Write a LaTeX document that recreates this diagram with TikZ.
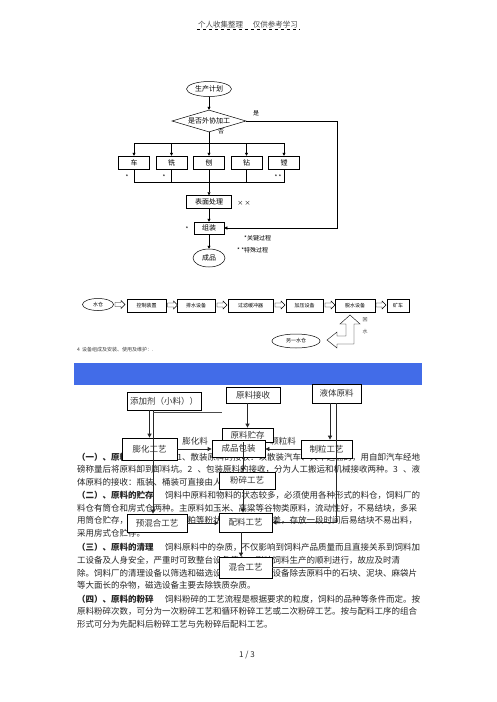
\documentclass[tikz,border=0pt]{standalone}
\usepackage{fontspec}
\setmainfont{Noto Sans CJK SC}
\usetikzlibrary{shapes.geometric,arrows.meta}
\XeTeXlinebreaklocale "zh"
\XeTeXlinebreakskip=0pt plus 1pt
\newcommand{\jl}[1]{\makebox[343pt][s]{#1}}
\newcommand{\barw}[2]{\draw[line width=0.4pt,fill=white,shift={(#1,#2)}] (-5,-2) -- (1,-2) -- (1,-4) -- (5,0) -- (1,4) -- (1,2) -- (-5,2) -- cycle;}
\begin{document}
\begin{tikzpicture}[x=1pt,y=-1pt,
  arr/.style={-{Triangle[length=3pt,width=3pt]},line width=0.5pt},
  tbox/.style={draw,fill=white,inner sep=0pt,line width=0.5pt,font=\fontsize{7}{7}\selectfont,minimum height=13pt},
  sbox/.style={draw,fill=white,inner sep=0pt,line width=0.5pt,font=\fontsize{5}{5}\selectfont,minimum height=13pt},
  lbox/.style={draw,fill=white,inner sep=0pt,line width=0.8pt,font=\fontsize{8.5}{9}\selectfont,text=black!80},
  larr/.style={-{Triangle[length=4pt,width=4pt]},line width=0.8pt,draw=black!85},
  txt/.style={inner sep=0pt,anchor=west,font=\fontsize{8.5}{9}\selectfont,text=black!85},
  lbl/.style={inner sep=0pt,font=\fontsize{6}{6}\selectfont},
  tiny/.style={inner sep=0pt,font=\fontsize{5}{5}\selectfont,text=black!75}]
\useasboundingbox (0,0) rectangle (496,702);
\fill[white] (0,0) rectangle (496,702);

% header
\node[inner sep=1pt,font=\fontsize{7.5}{8}\selectfont,text=black!70] (hdr) at (248,25) {个人收集整理\hspace{10pt}仅供参考学习};
\draw[dashed,line width=0.6pt] (hdr.south west) -- (hdr.south east);

% ---------- flowchart 1 ----------
\node[ellipse,draw,line width=0.5pt,minimum width=45pt,minimum height=15pt,inner sep=0pt,font=\fontsize{7}{7}\selectfont] (plan) at (209,89) {生产计划};
\node[diamond,draw,line width=0.5pt,aspect=3.4,minimum width=74pt,minimum height=22pt,inner sep=0pt,font=\fontsize{7}{7}\selectfont] (dia) at (209,121) {是否外协加工};
\node[tbox,minimum width=31pt] (m1) at (134,162.5) {车};
\node[tbox,minimum width=31pt] (m2) at (171.5,162.5) {铣};
\node[tbox,minimum width=31pt] (m3) at (209,162.5) {刨};
\node[tbox,minimum width=31pt] (m4) at (246.5,162.5) {钻};
\node[tbox,minimum width=31pt] (m5) at (284,162.5) {镗};
\node[tbox,minimum width=45pt] (surf) at (209,202) {表面处理};
\node[tbox,minimum width=30pt,minimum height=12pt] (asm) at (209,228) {组装};
\node[ellipse,draw,line width=0.5pt,minimum width=32pt,minimum height=18pt,inner sep=0pt,font=\fontsize{7}{7}\selectfont] (fin) at (209,258) {成品};

\coordinate (bh) at (209,143);
\coordinate (bl) at (209,182);
\coordinate (cr) at (337,121);
\draw[arr] (plan) -- (dia);
\draw[line width=0.5pt] (dia.south) -- (bh);
\draw[line width=0.5pt] (m1.north |- bh) -- (m5.north |- bh);
\foreach \i in {1,...,5} {\draw[arr] (m\i.north |- bh) -- (m\i.north);}
\draw[line width=0.5pt] (m1.south) -- (m1.south |- bl) -- (m5.south |- bl) -- (m5.south);
\draw[line width=0.5pt] (m2.south) -- (m2.south |- bl);
\draw[line width=0.5pt] (m4.south) -- (m4.south |- bl);
\draw[arr] (m3.south) -- (surf.north);
\draw[arr] (surf) -- (asm);
\draw[arr] (asm) -- (fin);
\draw[arr] (dia.east) -- (cr) |- (asm.east);

\node[lbl] (yes) at (256,113) {是};
\node[lbl] (no) at (221,131) {否};
\node[lbl] (s1) at (127,177) {*};
\node[lbl] (s2) at (164,177) {*};
\node[lbl] (s5) at (278,177) {* *};
\node[lbl] (sx) at (244,203) {× ×};
\node[lbl] (sa) at (187,229) {*};
\node[lbl,anchor=west] (key) at (244,238) {*关键过程};
\node[lbl,anchor=west] (spc) at (237,250) {* *特殊过程};

% ---------- flowchart 2 ----------
\node[ellipse,draw,line width=0.5pt,minimum width=31pt,minimum height=12pt,inner sep=0pt,font=\fontsize{5}{5}\selectfont] (w1) at (98,304.5) {水仓};
\node[sbox,minimum width=39pt] (b1) at (146.5,305.5) {控制装置};
\node[sbox,minimum width=38pt] (b2) at (196,305.5) {排水设备};
\node[sbox,minimum width=45pt] (b3) at (250.5,305.5) {过滤缓冲器};
\node[sbox,minimum width=37pt] (b4) at (304.5,305.5) {加压设备};
\node[sbox,minimum width=40pt] (b5) at (355,305.5) {脱水设备};
\node[sbox,minimum width=22pt] (b6) at (398,305.5) {矿车};
\barw{120}{304.5}
\barw{172.5}{305}
\barw{222}{305}
\barw{280}{305}
\barw{330}{305}
\barw{381}{305}
\draw[line width=0.4pt,fill=white] (350,315) -- (360,324) -- (354,324) -- (354,344) -- (337,344) -- (337,348) -- (327,340) -- (337,332) -- (337,336) -- (346,336) -- (346,324) -- (340,324) -- cycle;
\node[ellipse,draw,line width=0.5pt,minimum width=48pt,minimum height=14pt,inner sep=0pt,font=\fontsize{5}{5}\selectfont] (w2) at (296,341) {另一水仓};
\node[tiny] (h1) at (365,320) {回};
\node[tiny] (h2) at (365,332) {水};
\node[tiny,anchor=west] (sec4) at (77,350) {4\ \ 设备组成及安装、使用及维护：.};

% blue band
\fill[fill={rgb,255:red,66;green,108;blue,232}] (74,363) rectangle (422,385);

% ---------- body text ----------
\node[txt] (t1) at (77,457) {\jl{\bfseries （一）、原料的接收\mdseries\ 1、散装原料的接收：以散装汽车、火车运输的，用自卸汽车经地}};
\node[txt] (t2) at (77,469.5) {\jl{磅称量后将原料卸到卸料坑。2 、包装原料的接收，分为人工搬运和机械接收两种。3 、液}};
\node[txt] (t3) at (77,482) {体原料的接收：瓶装、桶装可直接由人工搬运。};
\node[txt] (t4) at (77,495) {\jl{\bfseries （二）、原料的贮存\mdseries\ 饲料中原料和物料的状态较多，必须使用各种形式的料仓，饲料厂的}};
\node[txt] (t5) at (77,508) {\jl{料仓有筒仓和房式仓两种。主原料如玉米、高粱等谷物类原料，流动性好，不易结块，多采}};
\node[txt] (t6) at (77,520.5) {\jl{用筒仓贮存，辅料如麸皮、豆粕等粉状原料，流动性差，存放一段时间后易结块不易出料，}};
\node[txt] (t7) at (77,533) {采用房式仓贮存。};
\node[txt] (t8) at (77,547) {\jl{\bfseries （三）、原料的清理\mdseries\ 饲料原料中的杂质，不仅影响到饲料产品质量而且直接关系到饲料加}};
\node[txt] (t9) at (77,560) {\jl{工设备及人身安全，严重时可致整台设备停车，影响饲料生产的顺利进行，故应及时清}};
\node[txt] (t10) at (77,573) {\jl{除。饲料厂的清理设备以筛选和磁选设备为主，筛选设备除去原料中的石块、泥块、麻袋片}};
\node[txt] (t11) at (77,585.5) {等大面长的杂物，磁选设备主要去除铁质杂质。};
\node[txt] (t12) at (77,599) {\jl{\bfseries （四）、原料的粉碎\mdseries\ 饲料粉碎的工艺流程是根据要求的粒度，饲料的品种等条件而定。按}};
\node[txt] (t13) at (77,611.5) {\jl{原料粉碎次数，可分为一次粉碎工艺和循环粉碎工艺或二次粉碎工艺。按与配料工序的组合}};
\node[txt] (t14) at (77,624) {形式可分为先配料后粉碎工艺与先粉碎后配料工艺。};
\node[inner sep=0pt,font=\fontsize{8}{8}\selectfont,text=black!85] (pg) at (247,655) {1 / 3};

% ---------- flowchart 3 ----------
\node[inner sep=0pt,font=\fontsize{8.5}{9}\selectfont,text=black!80] (lpuff) at (195,441.5) {膨化料};
\node[inner sep=0pt,font=\fontsize{8.5}{9}\selectfont,text=black!80] (lpel) at (283,441.5) {颗粒料};
\node[lbox,minimum width=51pt,minimum height=14pt] (store) at (247.5,435) {原料贮存};
\node[lbox,minimum width=53pt,minimum height=17pt] (pack) at (238.5,448.5) {成品包装};
\node[lbox,minimum width=74pt,minimum height=18pt] (add) at (164,401) {添加剂（小料））};
\node[lbox,minimum width=54pt,minimum height=16pt] (recv) at (253,395) {原料接收};
\node[lbox,minimum width=49pt,minimum height=19pt] (liq) at (336.5,393.5) {液体原料};
\node[lbox,minimum width=55pt,minimum height=22pt] (puff) at (149.5,449) {膨化工艺};
\node[lbox,minimum width=51pt,minimum height=18pt] (pel) at (326.5,449) {制粒工艺};
\node[lbox,minimum width=56pt,minimum height=17pt] (crush) at (247,480.5) {粉碎工艺};
\node[lbox,minimum width=60pt,minimum height=18pt] (premix) at (157,523) {预混合工艺};
\node[lbox,minimum width=53pt,minimum height=19pt] (dose) at (245.5,522.5) {配料工艺};
\node[lbox,minimum width=53pt,minimum height=21pt] (mix) at (245.5,567.5) {混合工艺};

\coordinate (xa) at (153,410);
\coordinate (ha) at (153,412);
\coordinate (hb) at (222,412);
\coordinate (xs) at (243,0);
\coordinate (xl) at (330,0);
\draw[larr] (add.south -| puff.north) -- (puff.north);
\draw[larr] (xa) -- (xa |- premix.north);
\draw[line width=0.8pt,draw=black!70] (ha) -- (hb);
\draw[larr] (recv.south -| store.north) -- (store.north);
\draw[larr] (store.south -| xs) -- (crush.north -| xs);
\draw[larr] (crush.south -| xs) -- (dose.north -| xs);
\draw[larr] (dose.south -| 241,0) -- (mix.north -| 241,0);
\draw[larr] (liq.south -| xl) -- (pel.north -| xl);
\draw[larr] (liq.south) |- (dose.east);
\draw[larr] (puff.east) -- (puff.east -| pack.west);
\draw[larr] (pel.west) -- (pel.west -| pack.east);
\draw[larr] (premix.east) -- (premix.east -| dose.west);
\draw[line width=0.8pt,draw=black!70] (mix.east) -- ++(58,0);
\end{tikzpicture}
\end{document}
